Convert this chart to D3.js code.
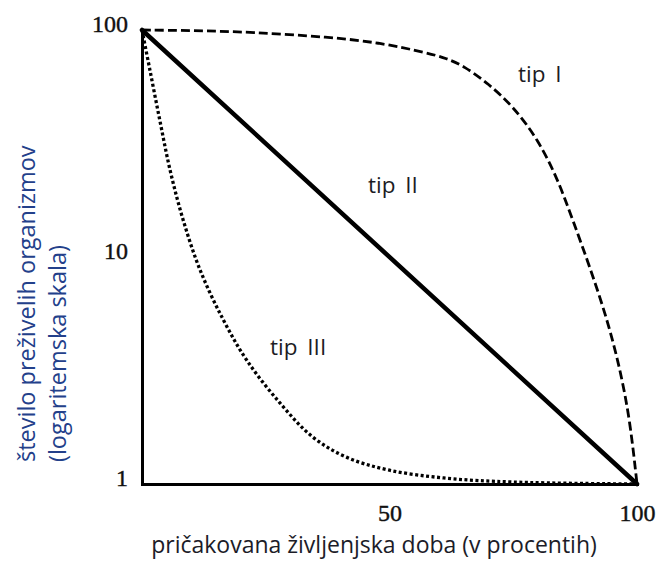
<!DOCTYPE html>
<html>
<head>
<meta charset="utf-8">
<script src="https://cdn.jsdelivr.net/npm/d3@7"></script>
<style>
  body { margin: 0; background: #fff; }
  svg { display: block; }
</style>
</head>
<body>
<svg id="chart"></svg>
<script>
// survivorship curves, x = % of life span, y = survivors (log)
const xTicks = [50, 100];
const yTicks = [1, 10, 100];

const typeIAge = [0, 10, 22, 38, 48, 58, 61.5, 65, 70, 75, 80, 84, 87, 90.5, 94, 96.6, 98.6, 100];
const typeISurv = [100, 99.5, 98, 93, 88, 79, 75, 69.5, 58, 46, 33, 22, 14.6, 9, 5.3, 3.2, 1.9, 1];

const typeIIAge = [0, 100];
const typeIISurv = [100, 1];

const typeIIIAge = [0, 1.6, 3.6, 5.7, 8.3, 11.7, 16.4, 21.2, 27.9, 34.5, 41.4, 50, 61.6, 75, 100];
const typeIIISurv = [100, 66.6, 40, 24, 14.6, 8.8, 5.3, 3.5, 2.27, 1.61, 1.31, 1.15, 1.06, 1.02, 1];

const curveLabels = ['tip I', 'tip II', 'tip III'];
const xTitle = 'pričakovana življenjska doba (v procentih)';
const yTitle = ['število preživelih organizmov', '(logaritemska skala)'];

let width = 656, height = 561;
let svg = d3.select('#chart').attr('width', width).attr('height', height);

let x = d3.scaleLinear().domain([0, 100]).range([142, 637]);
let y = d3.scaleLog().domain([1, 100]).range([484, 30]);

let sans = "'Open Sans', sans-serif";
let serif = "'Liberation Serif', 'Times New Roman', serif";

// axes
let yAxis = svg.append('g')
   .attr('transform', `translate(${x(0)},0)`)
   .call(d3.axisLeft(y).tickValues(yTicks).tickFormat(d3.format('d')).tickSize(0).tickPadding(14));
let xAxis = svg.append('g')
   .attr('transform', `translate(0,${y(1)})`)
   .call(d3.axisBottom(x).tickValues(xTicks).tickFormat(d3.format('d')).tickSize(0).tickPadding(20));

[yAxis, xAxis].forEach(g => {
    g.select('.domain').attr('stroke', '#000').attr('stroke-width', 3).attr('stroke-linecap', 'square');
    g.selectAll('text').attr('font-family', serif).attr('font-size', 24)
     .attr('fill', '#111').attr('stroke', '#111').attr('stroke-width', 0.4);
});
yAxis.selectAll('text').attr('dy', '0.07em');

let line = d3.line().x(d => x(d[0])).y(d => y(d[1]));
let zip = (a, b) => a.map((v, i) => [v, b[i]]);

svg.append('path')
   .datum(zip(typeIAge, typeISurv))
   .attr('d', line.curve(d3.curveBasis))
   .attr('fill', 'none').attr('stroke', '#000')
   .attr('stroke-width', 2.8).attr('stroke-dasharray', '9,4');

svg.append('path')
   .datum(zip(typeIIIAge, typeIIISurv))
   .attr('d', line.curve(d3.curveCatmullRom.alpha(0.5)))
   .attr('fill', 'none').attr('stroke', '#000')
   .attr('stroke-width', 3.3).attr('stroke-dasharray', '3,2.5');

svg.append('path')
   .datum(zip(typeIIAge, typeIISurv))
   .attr('d', line.curve(d3.curveLinear))
   .attr('fill', 'none').attr('stroke', '#000')
   .attr('stroke-width', 4.5).attr('stroke-linecap', 'round');

// curve labels
let labelPos = [[518, 82], [368, 193], [270, 355]];
svg.selectAll('.curve-label')
   .data(curveLabels)
   .enter().append('text')
   .attr('class', 'curve-label')
   .attr('x', (d, i) => labelPos[i][0])
   .attr('y', (d, i) => labelPos[i][1])
   .attr('font-family', sans).attr('font-size', 22.5)
   .attr('word-spacing', 4)
   .attr('fill', '#1c1c24')
   .text(d => d);

// axis titles
svg.append('text')
   .attr('x', 374).attr('y', 553)
   .attr('text-anchor', 'middle')
   .attr('font-family', sans).attr('font-size', 23)
   .attr('fill', '#1c1c28')
   .text(xTitle);

svg.append('g')
   .attr('transform', 'translate(35,462) rotate(-90)')
   .selectAll('text')
   .data(yTitle)
   .enter().append('text')
   .attr('x', 0).attr('y', (d, i) => i * 31)
   .attr('font-family', sans).attr('font-size', 23.5)
   .attr('fill', '#23408a')
   .text(d => d);
</script>
</body>
</html>
